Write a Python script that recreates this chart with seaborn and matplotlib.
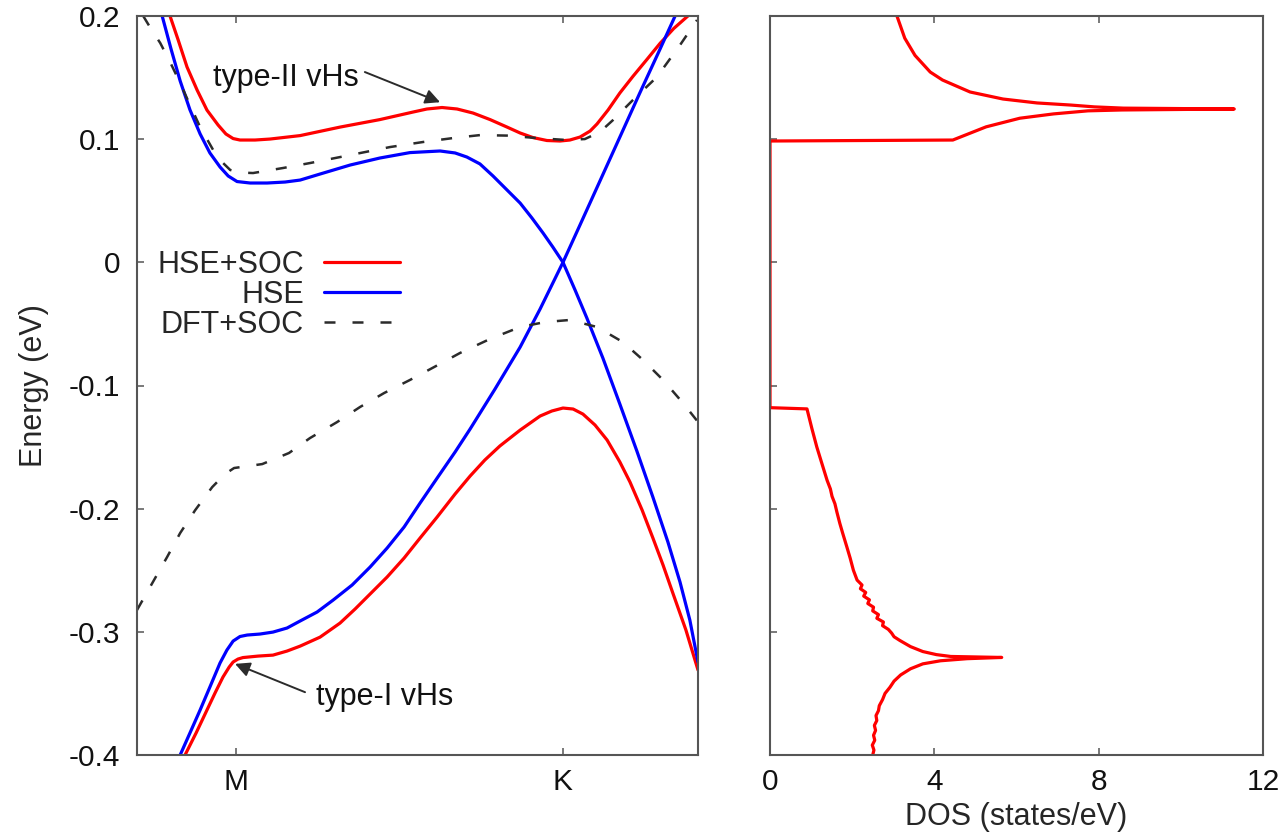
import matplotlib
matplotlib.use("Agg")
import matplotlib.pyplot as plt
import seaborn as sns

sns.set_style("ticks")
plt.rcParams["font.family"] = ["Liberation Sans", "DejaVu Sans"]
plt.rcParams["axes.unicode_minus"] = False

# ---------------------------------------------------------------------------
# Path coordinate along the Brillouin zone: M at 0, K at 1
k_sym = [0.0, 1.0]
k_sym_labels = ["M", "K"]
k_range = (-0.303, 1.413)

energy_range = (-0.4, 0.2)
energy_ticks = [-0.4, -0.3, -0.2, -0.1, 0.0, 0.1, 0.2]
energy_tick_labels = ["-0.4", "-0.3", "-0.2", "-0.1", "0", "0.1", "0.2"]

dos_range = (0, 12)
dos_ticks = [0, 4, 8, 12]
dos_tick_labels = ["0", "4", "8", "12"]

# HSE+SOC conduction band
hse_soc_cb_k = [-0.202, -0.177, -0.150, -0.119, -0.089, -0.055, -0.031, -0.009,
                0.012, 0.058, 0.104, 0.196, 0.318, 0.440, 0.541, 0.584, 0.630,
                0.676, 0.725, 0.777, 0.829, 0.869, 0.908, 0.951, 0.991, 1.021,
                1.052, 1.083, 1.104, 1.138, 1.174, 1.214, 1.257, 1.297, 1.339, 1.382]
hse_soc_cb_e = [0.200, 0.1805, 0.1586, 0.1398, 0.1236, 0.1115, 0.1042, 0.1005,
                0.0993, 0.0993, 0.1001, 0.1029, 0.1098, 0.1159, 0.1220, 0.1245, 0.1257,
                0.1245, 0.1212, 0.1159, 0.1098, 0.1050, 0.1013, 0.0989, 0.0985, 0.0993,
                0.1017, 0.1066, 0.1123, 0.1237, 0.1375, 0.1510, 0.1648, 0.1778, 0.1899, 0.200]

# HSE+SOC valence band
hse_soc_vb_k = [-0.156, -0.122, -0.089, -0.064, -0.040, -0.021, -0.009, 0.006,
                0.021, 0.067, 0.113, 0.156, 0.196, 0.257, 0.318, 0.364, 0.410,
                0.462, 0.514, 0.563, 0.615, 0.670, 0.716, 0.761, 0.807, 0.869,
                0.930, 0.966, 1.000, 1.031, 1.061, 1.098, 1.135, 1.174, 1.205,
                1.242, 1.275, 1.306, 1.336, 1.376, 1.413]
hse_soc_vb_e = [-0.400, -0.382, -0.3635, -0.3495, -0.3367, -0.3286, -0.3245, -0.3221,
                -0.3209, -0.3197, -0.3189, -0.3156, -0.3116, -0.3043, -0.2929, -0.2815, -0.2693,
                -0.2555, -0.2401, -0.2238, -0.2068, -0.1881, -0.1735, -0.1605, -0.1491, -0.1362,
                -0.1248, -0.1207, -0.1183, -0.1191, -0.1232, -0.1321, -0.1443, -0.1621, -0.1784,
                -0.2011, -0.2238, -0.2457, -0.2685, -0.2985, -0.3310]

# HSE conduction band
hse_cb_k = [-0.226, -0.199, -0.171, -0.141, -0.110, -0.080, -0.049, -0.024, 0.003,
            0.043, 0.095, 0.150, 0.196, 0.257, 0.349, 0.440, 0.532, 0.624, 0.670,
            0.706, 0.746, 0.786, 0.829, 0.869, 0.905, 0.939, 0.969, 1.000, 1.037,
            1.073, 1.122, 1.174, 1.226, 1.275, 1.321, 1.358, 1.388, 1.413]
hse_cb_e = [0.200, 0.1733, 0.1473, 0.1238, 0.1043, 0.0888, 0.0774, 0.0701, 0.0656,
            0.0644, 0.0644, 0.0652, 0.0668, 0.0717, 0.0790, 0.0847, 0.0891, 0.0904, 0.0888,
            0.0855, 0.0799, 0.0701, 0.0587, 0.0481, 0.0360, 0.0238, 0.0124, 0.000, -0.0225,
            -0.0452, -0.0777, -0.1151, -0.1532, -0.1906, -0.2271, -0.2596, -0.2904, -0.3245]

# HSE valence band
hse_vb_k = [-0.171, -0.141, -0.110, -0.080, -0.049, -0.028, -0.009, 0.012, 0.034,
            0.073, 0.113, 0.156, 0.196, 0.248, 0.297, 0.355, 0.410, 0.462, 0.514,
            0.563, 0.615, 0.670, 0.716, 0.792, 0.869, 0.930, 1.000, 1.052, 1.113,
            1.174, 1.235, 1.297, 1.343]
hse_vb_e = [-0.400, -0.3821, -0.3635, -0.3448, -0.3253, -0.3148, -0.3075, -0.3038, -0.3026,
            -0.3018, -0.3002, -0.2969, -0.2912, -0.2839, -0.2742, -0.2620, -0.2474, -0.2320, -0.2149,
            -0.1954, -0.1752, -0.1540, -0.1353, -0.1029, -0.0688, -0.0379, 0.000, 0.0303, 0.0660,
            0.1017, 0.1375, 0.1732, 0.200]

# DFT+SOC conduction band
dft_soc_cb_k = [-0.284, -0.260, -0.232, -0.202, -0.171, -0.141, -0.110, -0.070,
                -0.043, -0.018, 0.012, 0.052, 0.144, 0.226, 0.349, 0.471, 0.572,
                0.664, 0.746, 0.829, 0.920, 1.012, 1.067, 1.113, 1.153, 1.214,
                1.287, 1.358, 1.410]
dft_soc_cb_e = [0.200, 0.1895, 0.1781, 0.1627, 0.1456, 0.1278, 0.1099, 0.0912,
                0.0815, 0.0750, 0.0729, 0.0725, 0.0766, 0.0806, 0.0871, 0.0936, 0.0977,
                0.1009, 0.1033, 0.1029, 0.1009, 0.0993, 0.1001, 0.1058, 0.1155, 0.1318,
                0.1504, 0.1764, 0.1967]

# DFT+SOC valence band
dft_soc_vb_k = [-0.303, -0.263, -0.211, -0.171, -0.125, -0.073, -0.034, -0.006,
                0.037, 0.080, 0.162, 0.226, 0.309, 0.379, 0.453, 0.532, 0.606,
                0.685, 0.777, 0.869, 0.945, 1.021, 1.104, 1.183, 1.245, 1.306,
                1.367, 1.413]
dft_soc_vb_e = [-0.2823, -0.2636, -0.2393, -0.2198, -0.2012, -0.1825, -0.1719, -0.1670,
                -0.1654, -0.1638, -0.1548, -0.1427, -0.1297, -0.1175, -0.1061, -0.0955, -0.0850,
                -0.0736, -0.0622, -0.0525, -0.0485, -0.0468, -0.0525, -0.0647, -0.0793, -0.0955,
                -0.1142, -0.1296]

# HSE+SOC density of states, traced from the bottom of the window upward
dos_energy = [-0.400, -0.396, -0.392, -0.388, -0.384, -0.380, -0.376, -0.372,
              -0.368, -0.364, -0.360, -0.355, -0.350, -0.345, -0.340, -0.335,
              -0.330, -0.326, -0.3235, -0.3218, -0.3208,
              -0.3200, -0.3185, -0.316, -0.312, -0.307, -0.304, -0.301, -0.298,
              -0.295, -0.292, -0.289, -0.286, -0.283, -0.280, -0.277, -0.274,
              -0.271, -0.268, -0.265, -0.262, -0.258, -0.250, -0.240, -0.231,
              -0.220, -0.212, -0.203, -0.196, -0.190, -0.184, -0.177, -0.163,
              -0.150, -0.135, -0.119,
              -0.118, 0.0985, 0.0993, 0.110, 0.117, 0.1205, 0.123, 0.1237, 0.1245,
              0.1252, 0.1262, 0.1277, 0.1294, 0.1326, 0.1383, 0.148, 0.1545,
              0.168, 0.182, 0.200]
dos_value = [2.50, 2.53, 2.49, 2.55, 2.52, 2.57, 2.54, 2.60,
             2.58, 2.64, 2.66, 2.74, 2.80, 2.92, 3.02, 3.18,
             3.42, 3.72, 4.15, 4.80, 5.64,
             4.40, 4.05, 3.72, 3.42, 3.16, 3.02, 2.96, 2.88,
             2.74, 2.76, 2.60, 2.64, 2.50, 2.52, 2.38, 2.42,
             2.28, 2.33, 2.20, 2.24, 2.12, 2.03, 1.95, 1.87,
             1.77, 1.70, 1.63, 1.58, 1.51, 1.47, 1.39, 1.26,
             1.14, 1.02, 0.90,
             0.00, 0.00, 4.45, 5.26, 6.08, 6.90, 7.74, 8.56, 11.30,
             8.60, 7.90, 7.32, 6.50, 5.67, 4.87, 4.20, 3.90,
             3.53, 3.28, 3.09]

RED = "#ff0000"
BLUE = "#0000ff"
DARK = "#2b2b2b"
SPINE = "#555555"
FS = 22
TICK_FS = 21.5

fig = plt.figure(figsize=(12.83, 8.33), dpi=100)
ax_band = fig.add_axes([137 / 1283, 78 / 833, 561 / 1283, 739 / 833])
ax_dos = fig.add_axes([770 / 1283, 78 / 833, 493 / 1283, 739 / 833])

line_kw = dict(estimator=None, sort=False, linewidth=2.3)
dash_kw = dict(estimator=None, sort=False, linewidth=1.8, linestyle=(0, (4.4, 6.8)))

# band structure
sns.lineplot(x=hse_soc_cb_k, y=hse_soc_cb_e, color=RED, label="HSE+SOC", ax=ax_band, **line_kw)
sns.lineplot(x=hse_soc_vb_k, y=hse_soc_vb_e, color=RED, ax=ax_band, **line_kw)
sns.lineplot(x=hse_cb_k, y=hse_cb_e, color=BLUE, label="HSE", ax=ax_band, **line_kw)
sns.lineplot(x=hse_vb_k, y=hse_vb_e, color=BLUE, ax=ax_band, **line_kw)
sns.lineplot(x=dft_soc_cb_k, y=dft_soc_cb_e, color=DARK, label="DFT+SOC", ax=ax_band, **dash_kw)
sns.lineplot(x=dft_soc_vb_k, y=dft_soc_vb_e, color=DARK, ax=ax_band, **dash_kw)

# density of states
sns.lineplot(x=dos_value, y=dos_energy, color=RED, ax=ax_dos, **line_kw)

for ax in (ax_band, ax_dos):
    ax.set_ylim(*energy_range)
    ax.set_yticks(energy_ticks)
    for sp in ax.spines.values():
        sp.set_visible(True)
        sp.set_color(SPINE)
        sp.set_linewidth(1.5)
    ax.tick_params(direction="in", length=5, width=1.1, color=SPINE,
                   labelsize=TICK_FS, labelcolor="#111111", top=True, right=False)
    ax.tick_params(axis="x", pad=9)
    ax.tick_params(axis="y", pad=12)

ax_band.set_xlim(*k_range)
ax_band.set_xticks(k_sym)
ax_band.set_xticklabels(k_sym_labels)
ax_band.set_yticklabels(energy_tick_labels)
ax_band.set_ylabel("Energy (eV)", fontsize=FS, labelpad=14)

ax_dos.set_xlim(*dos_range)
ax_dos.set_xticks(dos_ticks)
ax_dos.set_xticklabels(dos_tick_labels)
ax_dos.set_yticklabels([])
ax_dos.set_xlabel("DOS (states/eV)", fontsize=FS, labelpad=5)

handles, labels = ax_band.get_legend_handles_labels()
ax_band.legend(handles, labels, loc="upper right", bbox_to_anchor=(0.469, 0.684),
               frameon=False, markerfirst=False, fontsize=FS, handlelength=2.5,
               handletextpad=0.65, labelspacing=0.0, borderpad=0, borderaxespad=0)

arrow_kw = dict(arrowstyle="-|>", color=DARK, lw=1.4, mutation_scale=22,
                shrinkA=0, shrinkB=0)
ax_band.annotate("", xy=(0.624, 0.130), xytext=(0.394, 0.1545), arrowprops=arrow_kw)
ax_band.text(0.153, 0.150, "type-II vHs", fontsize=FS, ha="center", va="center", color="#111111")
ax_band.annotate("", xy=(-0.003, -0.326), xytext=(0.211, -0.349), arrowprops=arrow_kw)
ax_band.text(0.453, -0.353, "type-I vHs", fontsize=FS, ha="center", va="center", color="#111111")

fig.savefig("out.png", dpi=100)
